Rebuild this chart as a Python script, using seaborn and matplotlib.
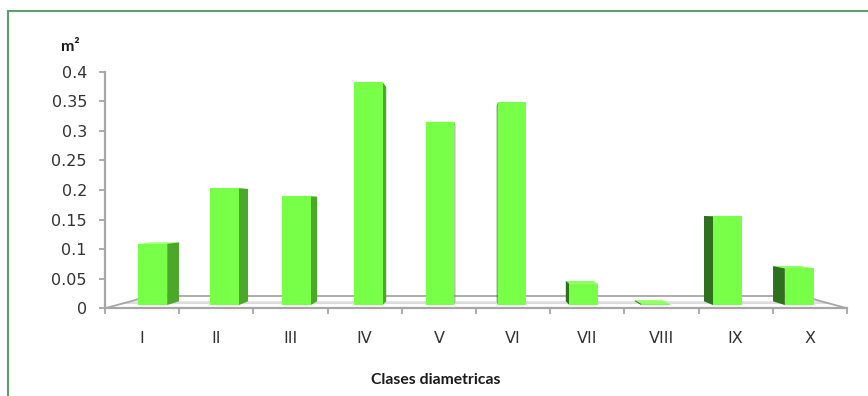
import matplotlib
matplotlib.use("Agg")
import matplotlib.pyplot as plt
import pandas as pd
import seaborn as sns
from matplotlib.patches import Polygon
from matplotlib.lines import Line2D

# Basal area per diameter class
clases = ["I", "II", "III", "IV", "V", "VI", "VII", "VIII", "IX", "X"]
area_basal = [0.107, 0.204, 0.190, 0.389, 0.320, 0.354, 0.037, 0.002, 0.155, 0.064]
y_ticks = [0, 0.05, 0.1, 0.15, 0.2, 0.25, 0.3, 0.35, 0.4]
y_tick_labels = ["0", "0.05", "0.1", "0.15", "0.2", "0.25", "0.3", "0.35", "0.4"]

df = pd.DataFrame({"clase": clases, "area": area_basal})

sns.set_theme(style="white")
plt.rcParams["font.family"] = ["DejaVu Sans"]

FRONT = "#78ff48"
TOP = "#8dff62"
SIDE_LEFT = "#4ca82a"
SIDE_RIGHT = "#2e701e"
AXIS_GREY = "#a6a6a6"

# simple one-point perspective (vanishing point in data units)
VX, VY = 4.5, 0.171
S_FRONT, S_BACK, S_FLOOR = 0.968, 0.931, 0.883


def proj(x, y, s):
    return (VX + (x - VX) * s, VY + (y - VY) * s)


fig = plt.figure(figsize=(8.68, 3.96), dpi=100)
ax = fig.add_axes([0.121, 0.2215, 0.8548, 0.5975])

sns.barplot(data=df, x="clase", y="area", color=FRONT, width=0.4,
            saturation=1, ax=ax, zorder=4, linewidth=0)

# floor of the 3-D box
floor = [(-0.5, 0), (9.5, 0), proj(9.5, 0, S_FLOOR), proj(-0.5, 0, S_FLOOR)]
ax.add_patch(Polygon(floor, closed=True, facecolor="white", edgecolor="none",
                     zorder=1, clip_on=False))
band = [proj(-0.5, 0, S_FRONT - 0.01), proj(9.5, 0, S_FRONT - 0.01),
        proj(9.5, 0, S_BACK), proj(-0.5, 0, S_BACK)]
ax.add_patch(Polygon(band, closed=True, facecolor="#d4d4d4", edgecolor="none",
                     alpha=0.8, zorder=1.2, clip_on=False))
for a, b in [(floor[0], floor[3]), (floor[3], floor[2]), (floor[2], floor[1])]:
    ax.plot([a[0], b[0]], [a[1], b[1]], color=AXIS_GREY, lw=1.3,
            zorder=1.5, clip_on=False, solid_capstyle="butt")

# turn each flat bar into a box seen in perspective
for p in list(ax.patches):
    if isinstance(p, Polygon) or not hasattr(p, "get_width"):
        continue
    x0, w, h = p.get_x(), p.get_width(), p.get_height()
    if w == 0 or w > 1:
        continue
    cx = x0 + w / 2
    edge = x0 + w if cx < VX else x0
    side_col = SIDE_LEFT if cx < VX else SIDE_RIGHT

    top = [proj(x0, h, S_FRONT), proj(x0 + w, h, S_FRONT),
           proj(x0 + w, h, S_BACK), proj(x0, h, S_BACK)]
    ax.add_patch(Polygon(top, closed=True, facecolor=TOP, edgecolor="none",
                         zorder=3, clip_on=False))
    side = [proj(edge, 0, S_FRONT), proj(edge, h, S_FRONT),
            proj(edge, h, S_BACK), proj(edge, 0, S_BACK)]
    ax.add_patch(Polygon(side, closed=True, facecolor=side_col, edgecolor="none",
                         zorder=3.5, clip_on=False))

    fx, fy = proj(x0, 0, S_FRONT)
    p.set_x(fx)
    p.set_y(fy)
    p.set_width(w * S_FRONT)
    p.set_height(h * S_FRONT)
    p.set_clip_on(False)

ax.set_xlim(-0.5, 9.5)
ax.set_ylim(0, 0.4)
ax.set_yticks(y_ticks)
ax.set_yticklabels(y_tick_labels)
ax.set_xticks(range(len(clases)))
ax.set_xticklabels(clases)
ax.set_xticks([i - 0.5 for i in range(len(clases) + 1)], minor=True)

for side in ["top", "right"]:
    ax.spines[side].set_visible(False)
for side in ["left", "bottom"]:
    ax.spines[side].set_color(AXIS_GREY)
    ax.spines[side].set_linewidth(1.6)
    ax.spines[side].set_zorder(5)

ax.tick_params(axis="y", which="major", left=True, length=4, width=1.3,
               color=AXIS_GREY, pad=9, labelsize=11.5, labelcolor="#333333")
ax.tick_params(axis="x", which="major", bottom=False, length=0, pad=16,
               labelsize=11.5, labelcolor="#333333")
ax.tick_params(axis="x", which="minor", bottom=True, length=4, width=1.3,
               color=AXIS_GREY)
ax.set_ylabel("")
ax.set_xlabel("Clases diametricas", fontsize=11.3, fontweight="bold",
              family="Lato", color="#1a1a1a")
ax.xaxis.set_label_coords(0.446, -0.303)
ax.xaxis.label.set_va("center")

ax.text(-0.047, 1.106, "m²", transform=ax.transAxes, ha="center", va="center",
        fontsize=11.5, fontweight="bold", family="Lato", color="#1a1a1a")

ax.patch.set_alpha(0)

# chart frame
border = "#5c9e6c"
fig.add_artist(Line2D([8 / 868, 8 / 868], [0, 1 - 11 / 396], color=border,
                      lw=1.5, transform=fig.transFigure))
fig.add_artist(Line2D([8 / 868, 1], [1 - 11 / 396, 1 - 11 / 396], color=border,
                      lw=1.5, transform=fig.transFigure))

fig.savefig("out.png", dpi=100)
